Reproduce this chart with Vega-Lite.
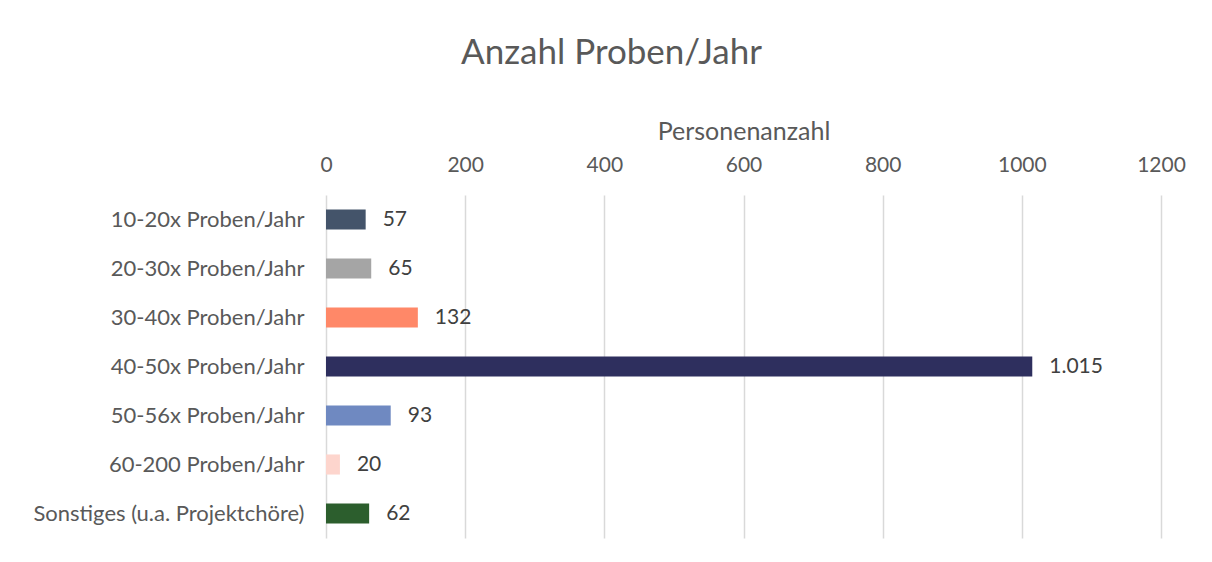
{
  "$schema": "https://vega.github.io/schema/vega-lite/v6.json",
  "autosize": "none",
  "width": 835,
  "height": 343,
  "padding": {"left": 326, "top": 195, "right": 51, "bottom": 24},
  "background": "white",
  "config": {
    "font": "Lato",
    "view": {"stroke": null},
    "locale": {"number": {"decimal": ",", "thousands": ".", "grouping": [3], "currency": ["", " €"]}}
  },
  "title": {
    "text": "Anzahl Proben/Jahr",
    "fontSize": 35,
    "fontWeight": "normal",
    "color": "#595959",
    "font": "Lato",
    "anchor": "middle",
    "dx": -132,
    "offset": 48
  },
  "data": {
    "values": [
      {"kategorie": "10-20x Proben/Jahr", "anzahl": 57, "farbe": "#44546A"},
      {"kategorie": "20-30x Proben/Jahr", "anzahl": 65, "farbe": "#A5A5A5"},
      {"kategorie": "30-40x Proben/Jahr", "anzahl": 132, "farbe": "#FF8868"},
      {"kategorie": "40-50x Proben/Jahr", "anzahl": 1015, "farbe": "#2E2F5E"},
      {"kategorie": "50-56x Proben/Jahr", "anzahl": 93, "farbe": "#6F89C1"},
      {"kategorie": "60-200 Proben/Jahr", "anzahl": 20, "farbe": "#FDD5CD"},
      {"kategorie": "Sonstiges (u.a. Projektchöre)", "anzahl": 62, "farbe": "#2C5E2D"}
    ]
  },
  "encoding": {
    "y": {
      "field": "kategorie",
      "type": "nominal",
      "sort": null,
      "scale": {"paddingInner": 0.59, "paddingOuter": 0.295},
      "axis": {
        "title": null,
        "ticks": false,
        "domain": false,
        "labelFontSize": 22,
        "labelColor": "#595959",
        "labelPadding": 22,
        "labelLimit": 500,
        "labelFont": "Lato"
      }
    },
    "x": {
      "field": "anzahl",
      "type": "quantitative",
      "scale": {"domain": [0, 1200], "nice": false},
      "axis": {
        "orient": "top",
        "values": [0, 200, 400, 600, 800, 1000, 1200],
        "format": "d",
        "labelFlush": false,
        "labelOverlap": false,
        "title": "Personenanzahl",
        "titleFontSize": 25,
        "titleFontWeight": "normal",
        "titleColor": "#595959",
        "titlePadding": 10,
        "titleFont": "Lato",
        "labelFontSize": 21,
        "labelColor": "#595959",
        "labelFont": "Lato",
        "labelPadding": 20,
        "ticks": false,
        "domain": false,
        "grid": true,
        "gridColor": "#D9D9D9",
        "gridWidth": 1.5
      }
    }
  },
  "layer": [
    {
      "mark": {"type": "bar"},
      "encoding": {
        "color": {"field": "farbe", "type": "nominal", "scale": null, "legend": null}
      }
    },
    {
      "mark": {"type": "text", "align": "left", "baseline": "middle", "dx": 17, "fontSize": 21, "color": "#404040", "font": "Lato"},
      "encoding": {
        "text": {"field": "anzahl", "type": "quantitative", "format": ",d"}
      }
    }
  ]
}
